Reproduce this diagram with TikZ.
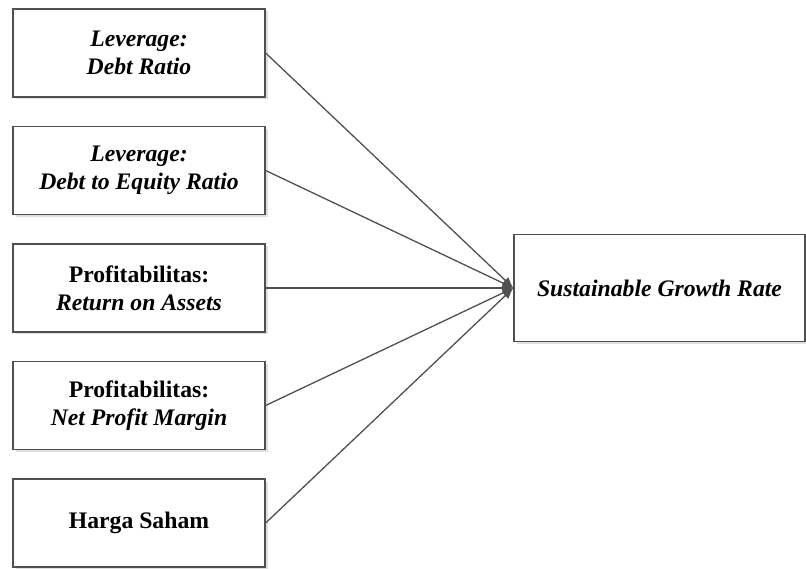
\documentclass[tikz,border=0pt]{standalone}
\usepackage{fontspec}
\setmainfont{Liberation Serif}
\usetikzlibrary{arrows.meta}
\usetikzlibrary{positioning,shadows}
\definecolor{edge}{HTML}{505050}
\tikzset{
	node distance=117.5pt,
	link/.style = {line width=1.3pt, draw=edge},
	var/.style = {draw=edge, line width=1.3pt, fill=white, minimum width=252pt, minimum height=88pt,
		align=center, font=\fontsize{23.7}{28}\selectfont\bfseries,
		drop shadow={shadow xshift=2.5pt, shadow yshift=-2.5pt, draw=none, fill=black!12, opacity=1}},
	dep/.style = {var, minimum width=291pt, minimum height=107pt}
}

\begin{document}
\begin{tikzpicture}[-{Latex[length=11pt,width=9pt]}, x=1pt, y=1pt]
	\useasboundingbox (0,0) rectangle (806,568);
	\node (dr) [var] at (139,515) {\itshape Leverage:\\ \itshape Debt Ratio};
	\node (der) [var, below of=dr] {\itshape Leverage:\\ \itshape Debt to Equity Ratio};
	\node (roa) [var, below of=der] {Profitabilitas:\\ \itshape Return on Assets};
	\node (npm) [var, below of=roa] {Profitabilitas:\\ \itshape Net Profit Margin};
	\node (hs) [var, below of=npm] {Harga Saham};
	\node (sgr) [dep, right of=roa, node distance=520.5pt] {\itshape Sustainable Growth Rate};
	\draw [link] (dr.east) -- (sgr.west);
	\draw [link] (der.east) -- (sgr.west);
	\draw [link] (roa.east) -- (sgr.west);
	\draw [link] (npm.east) -- (sgr.west);
	\draw [link] (hs.east) -- (sgr.west);
\end{tikzpicture}
\end{document}
